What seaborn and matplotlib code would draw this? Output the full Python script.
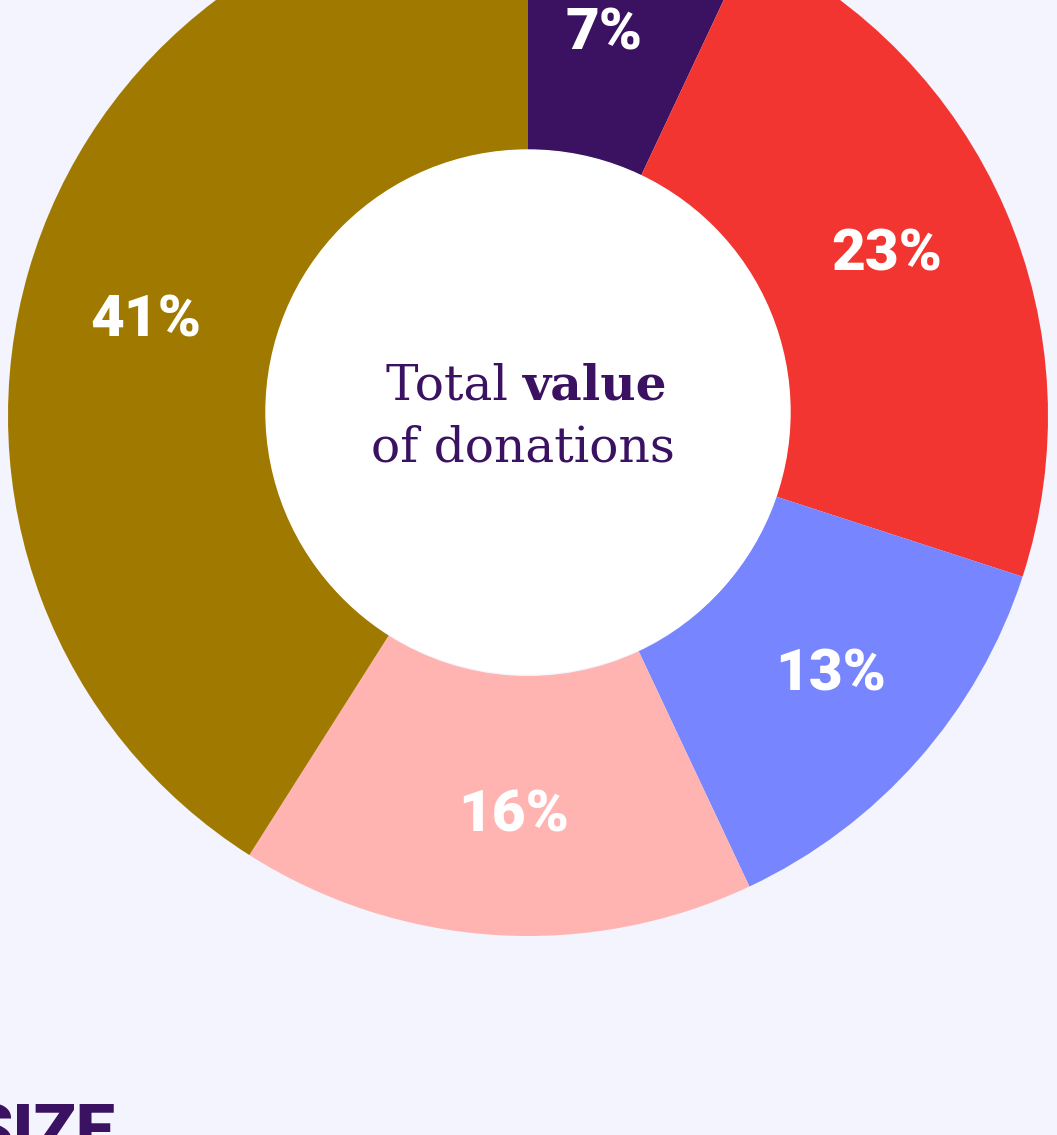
import matplotlib
matplotlib.use("Agg")
import numpy as np
import matplotlib.pyplot as plt
import seaborn as sns

# Share of total value of donations (clockwise from 12 o'clock)
shares = [7, 23, 13, 16, 41]
labels = ["7%", "23%", "13%", "16%", "41%"]
colors = ["#3b1261", "#f23530", "#7785fe", "#ffb4b2", "#a07a00"]

bg = "#f4f4fe"
ink = "#3b1261"

sns.set_theme(style="white")
plt.rcParams["font.family"] = ["Roboto", "DejaVu Sans"]

W, H = 1057, 1135
fig = plt.figure(figsize=(W / 100, H / 100), dpi=100, facecolor=bg)
ax = fig.add_axes([0, 0, 1, 1])
ax.set_facecolor(bg)

cx, cy, R = 528, H - 416, 520
wedges, _ = ax.pie(
    shares, colors=colors, startangle=90, counterclock=False,
    center=(cx, cy), radius=R,
    wedgeprops=dict(width=R * 0.5, linewidth=0),
    frame=True,
)
ax.set_xlim(0, W)
ax.set_ylim(0, H)
ax.set_aspect("equal")
ax.axis("off")

# percentage labels at the middle of each wedge
for w, lab in zip(wedges, labels):
    ang = np.deg2rad((w.theta1 + w.theta2) / 2 + 1.5)
    x = cx + 395 * np.cos(ang)
    y = cy + 395 * np.sin(ang)
    ax.text(x, y - 21, lab, color="white", fontsize=42, fontweight="black",
            ha="center", va="baseline", zorder=5)

# white hole in the middle
ax.add_patch(plt.Circle((cx, H - 412), 262, color="white", zorder=3))

ax.text(523, H - 400, "Total ", fontsize=35, color=ink, family="DejaVu Serif",
        ha="right", va="baseline", zorder=4)
ax.text(523, H - 400, "value", fontsize=35, color=ink, family="DejaVu Serif",
        fontweight="bold", ha="left", va="baseline", zorder=4)
ax.text(523, H - 462, "of donations", fontsize=35, color=ink, family="DejaVu Serif",
        ha="center", va="baseline", zorder=4)

# logo, clipped at bottom like the reference
ax.text(116, H - 1103, "SIZE", fontsize=50, color=ink, fontweight="black",
        ha="right", va="top")

fig.savefig("out.png", dpi=100, facecolor=bg)
